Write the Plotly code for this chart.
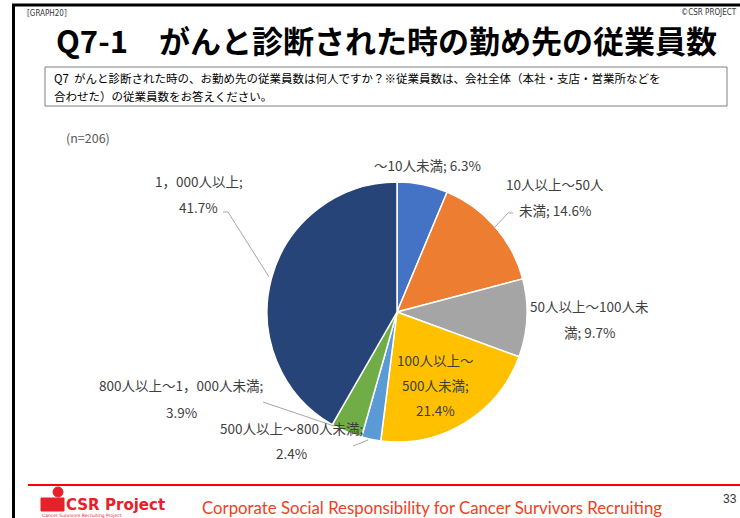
import plotly.graph_objects as go

W, H = 740, 518

categories = ["～10人未満", "10人以上～50人未満", "50人以上～100人未満", "100人以上～500人未満",
              "500人以上～800人未満", "800人以上～1，000人未満", "1，000人以上"]
values = [6.3, 14.6, 9.7, 21.4, 2.4, 3.9, 41.7]
colors = ["#4472C4", "#ED7D31", "#A5A5A5", "#FFC000", "#5B9BD5", "#70AD47", "#264478"]

# label lines (text split the way the chart wraps them)
label_lines = [
    ["～10人未満; 6.3%"],
    ["10人以上～50人", "未満; 14.6%"],
    ["50人以上～100人未", "満; 9.7%"],
    ["100人以上～", "500人未満;", "21.4%"],
    ["500人以上～800人未満;", "2.4%"],
    ["800人以上～1，000人未満;", "3.9%"],
    ["1，000人以上;", "41.7%"],
]
label_pos = [  # centre x of label block, y of first line, line step (pixels)
    (427, 165, 26),
    (555, 184, 26),
    (589, 306, 26),
    (435, 360, 25),
    (291, 428, 25),
    (181, 385, 27),
    (199, 181, 26),
]

title = "Q7-1　がんと診断された時の勤め先の従業員数"
question = ["Q7  がんと診断された時の、お勤め先の従業員数は何人ですか？※従業員数は、会社全体（本社・支店・営業所などを",
            "合わせた）の従業員数をお答えください。"]
n_text = "(n=206)"
footer = "Corporate Social Responsibility for Cancer Survivors Recruiting"
page_no = "33"

JP = "Noto Sans CJK JP"


def px(x):
    return x / W


def py(y):
    return 1 - y / H


fig = go.Figure()
cx, cy, r = 397, 312, 130
fig.add_trace(go.Pie(
    labels=categories, values=values, sort=False, direction="clockwise", rotation=0,
    marker=dict(colors=colors, line=dict(color="white", width=1.5)),
    textinfo="none", hoverinfo="label+percent", showlegend=False,
    domain=dict(x=[px(cx - r), px(cx + r)], y=[py(cy + r), py(cy - r)]),
))

ann = []
for lines, (x, y, step) in zip(label_lines, label_pos):
    for i, t in enumerate(lines):
        ann.append(dict(x=px(x), y=py(y + i * step), xref="paper", yref="paper", text=t,
                        showarrow=False, xanchor="center", yanchor="middle",
                        font=dict(family=JP, size=13.5, color="#404040")))

ann += [
    dict(x=px(25), y=py(14), text="[GRAPH20]", showarrow=False, xanchor="left", yanchor="middle",
         font=dict(family="Liberation Sans Narrow, DejaVu Sans Condensed", size=8, color="#333333")),
    dict(x=px(739), y=py(12.5), text="©CSR PROJECT", showarrow=False, xanchor="right", yanchor="middle",
         font=dict(family="DejaVu Sans Condensed", size=8, color="#333333")),
    dict(x=px(386), y=py(40), text="<b>" + title + "</b>", showarrow=False, xanchor="center",
         yanchor="middle", font=dict(family=JP, size=31, color="#000000")),
    dict(x=px(52), y=py(78), text=question[0], showarrow=False, xanchor="left", yanchor="middle",
         font=dict(family=JP, size=11.5, color="#000000")),
    dict(x=px(52), y=py(96), text=question[1], showarrow=False, xanchor="left", yanchor="middle",
         font=dict(family=JP, size=11.5, color="#000000")),
    dict(x=px(64), y=py(137), text=n_text, showarrow=False, xanchor="left", yanchor="middle",
         font=dict(family=JP, size=12.5, color="#595959")),
    dict(x=px(200), y=py(507), text=footer, showarrow=False, xanchor="left", yanchor="middle",
         font=dict(family="Lato", size=16.8, color="#F0401E")),
    dict(x=px(739), y=py(499), text=page_no, showarrow=False, xanchor="right", yanchor="middle",
         font=dict(family="Liberation Sans", size=12, color="#333333")),
    dict(x=px(64), y=py(505), text="<b>CSR</b>", showarrow=False, xanchor="left", yanchor="middle",
         font=dict(family="DejaVu Sans", size=15, color="#E8202A")),
    dict(x=px(103), y=py(505), text="<b>Project</b>", showarrow=False, xanchor="left", yanchor="middle",
         font=dict(family="DejaVu Sans", size=15, color="#E8202A")),
    dict(x=px(40), y=py(515), text="Cancer Survivors Recruiting Project", showarrow=False, xanchor="left",
         yanchor="middle", font=dict(family="DejaVu Sans", size=4.5, color="#E8202A")),
]

shapes = [
    # frame
    dict(type="line", xref="paper", yref="paper", x0=px(12), x1=px(740), y0=py(5), y1=py(5),
         line=dict(color="black", width=3)),
    dict(type="line", xref="paper", yref="paper", x0=px(13.5), x1=px(13.5), y0=py(4), y1=py(518),
         line=dict(color="black", width=3)),
    # question box
    dict(type="rect", xref="paper", yref="paper", x0=px(45), x1=px(727), y0=py(67), y1=py(106),
         line=dict(color="#7F7F7F", width=1)),
    # footer red line
    dict(type="line", xref="paper", yref="paper", x0=px(28), x1=px(740), y0=py(485), y1=py(485),
         line=dict(color="#FF0000", width=2)),
    # logo head
    dict(type="circle", xref="paper", yref="paper", x0=px(53), x1=px(63), y0=py(497), y1=py(487),
         fillcolor="#E8202A", line=dict(color="#E8202A", width=1)),
    dict(type="rect", xref="paper", yref="paper", x0=px(41), x1=px(64), y0=py(511), y1=py(498),
         fillcolor="#E8202A", line=dict(color="#E8202A", width=1)),
]
# leader lines
leaders = [
    [(513, 213), (508, 213), (495, 227)],
    [(223, 212), (228, 212), (269, 277)],
    [(263, 402), (334, 426)],
    [(353, 446), (368, 440)],
]
for pts in leaders:
    path = "M " + " L ".join(f"{px(x)},{py(y)}" for x, y in pts)
    shapes.append(dict(type="path", xref="paper", yref="paper", path=path,
                       line=dict(color="#A6A6A6", width=1)))

fig.update_layout(
    width=W, height=H, margin=dict(l=0, r=0, t=0, b=0),
    paper_bgcolor="white", plot_bgcolor="white",
    annotations=ann, shapes=shapes,
)
fig.write_html("out.html", config={"displayModeBar": False},
               post_script="document.body.style.margin='0';document.body.style.overflow='hidden';")
